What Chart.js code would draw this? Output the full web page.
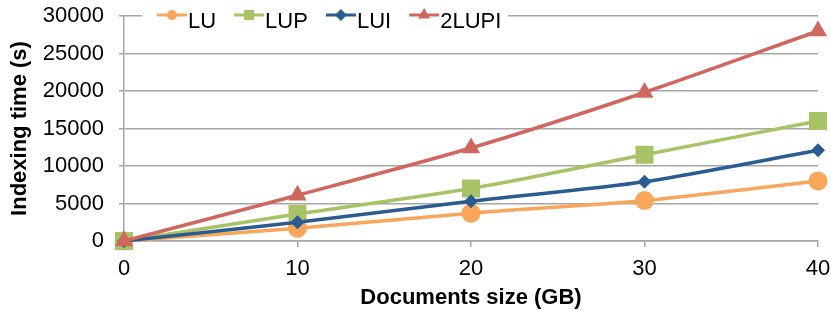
<!DOCTYPE html>
<html>
<head>
<meta charset="utf-8">
<script src="https://cdn.jsdelivr.net/npm/chart.js@4/dist/chart.umd.min.js"></script>
<style>
  html, body { margin: 0; padding: 0; background: #fff; }
  #wrap { width: 831px; height: 312px; }
</style>
</head>
<body>
<div id="wrap"><canvas id="chart" width="831" height="312"></canvas></div>
<script>
// Data
const sizes = ['0', '10', '20', '30', '40'];
const luTimes = [0, 1700, 3700, 5400, 8000];
const lupTimes = [0, 3600, 7000, 11500, 16000];
const luiTimes = [0, 2500, 5300, 7900, 12100];
const lupi2Times = [0, 6100, 12400, 19800, 28000];
const yTicks = [0, 5000, 10000, 15000, 20000, 25000, 30000];

const FONT = '"Liberation Sans", Arial, Helvetica, sans-serif';
const GRID = '#a6a6a6';

const series = [
  { label: 'LU', data: luTimes, color: '#f9a65a', style: 'circle', radius: 9.5, order: 4 },
  { label: 'LUP', data: lupTimes, color: '#a7c365', style: 'rect', radius: 12.7, order: 3 },
  { label: 'LUI', data: luiTimes, color: '#2b5c91', style: 'rectRot', radius: 7, order: 2 },
  { label: '2LUPI', data: lupi2Times, color: '#d0665d', style: 'triangle', radius: 10.5, order: 1 }
];

// Legend drawn inside the plot, over the top gridline
function drawMarker(ctx, style, x, y, r) {
  ctx.beginPath();
  if (style === 'circle') {
    ctx.arc(x, y, r, 0, Math.PI * 2);
  } else if (style === 'rect') {
    ctx.rect(x - r, y - r, r * 2, r * 2);
  } else if (style === 'rectRot') {
    ctx.moveTo(x, y - r); ctx.lineTo(x + r, y); ctx.lineTo(x, y + r); ctx.lineTo(x - r, y);
    ctx.closePath();
  } else {
    ctx.moveTo(x, y - r);
    ctx.lineTo(x + r * 0.866, y + r * 0.5);
    ctx.lineTo(x - r * 0.866, y + r * 0.5);
    ctx.closePath();
  }
  ctx.fill();
}

const legendSizes = { circle: 5, rect: 5, rectRot: 6, triangle: 7 };

const topLegend = {
  id: 'topLegend',
  afterDraw(chart) {
    const ctx = chart.ctx;
    ctx.save();
    ctx.fillStyle = '#fff';
    ctx.fillRect(142, 5, 366, 26);
    ctx.font = '22px ' + FONT;
    ctx.textBaseline = 'alphabetic';
    let x = 157;
    const y = 15;
    series.forEach(s => {
      ctx.strokeStyle = s.color;
      ctx.lineWidth = 3;
      ctx.beginPath();
      ctx.moveTo(x, y);
      ctx.lineTo(x + 30, y);
      ctx.stroke();
      ctx.fillStyle = s.color;
      drawMarker(ctx, s.style, x + 15, y, legendSizes[s.style]);
      ctx.fillStyle = '#000';
      ctx.fillText(s.label, x + 31, 28);
      x += 31 + ctx.measureText(s.label).width + 18;
    });
    ctx.restore();
  }
};

new Chart(document.getElementById('chart'), {
  type: 'line',
  data: {
    labels: sizes,
    datasets: series.map(s => ({
      label: s.label,
      data: s.data,
      borderColor: s.color,
      backgroundColor: s.color,
      borderWidth: 3.5,
      pointStyle: s.style,
      pointRadius: s.radius,
      pointBorderWidth: 0,
      tension: 0.25,
      order: s.order,
      clip: false
    }))
  },
  options: {
    responsive: false,
    animation: false,
    layout: { padding: { top: 16, right: 13, left: 0, bottom: 0 } },
    plugins: {
      legend: { display: false },
      tooltip: { enabled: false }
    },
    scales: {
      x: {
        grid: { display: true, drawOnChartArea: false, drawTicks: true, tickLength: 6, color: GRID, lineWidth: 1.5 },
        border: { color: GRID, width: 1.5 },
        ticks: { color: '#000', font: { family: FONT, size: 22 }, padding: 9, maxRotation: 0 },
        title: {
          display: true, text: 'Documents size (GB)', color: '#000',
          font: { family: FONT, size: 22, weight: 'bold' }, padding: { top: 0, bottom: 1 }
        },
        afterFit(scale) {
          scale.height = 71;
          scale.paddingLeft = 0;
          scale.paddingRight = 0;
        }
      },
      y: {
        min: 0,
        max: 30000,
        afterBuildTicks(scale) { scale.ticks = yTicks.map(v => ({ value: v })); },
        grid: { color: GRID, lineWidth: 1.5, drawTicks: true, tickLength: 5 },
        border: { color: GRID, width: 1.5 },
        ticks: { color: '#000', font: { family: FONT, size: 22 }, padding: 15, callback: v => String(v) },
        title: {
          display: true, text: 'Indexing time (s)', color: '#000',
          font: { family: FONT, size: 22, weight: 'bold' }, padding: { top: 7, bottom: 0 }
        },
        afterFit(scale) {
          scale.width = 124;
          scale.paddingTop = 0;
          scale.paddingBottom = 0;
        }
      }
    }
  },
  plugins: [topLegend]
});
</script>
</body>
</html>
